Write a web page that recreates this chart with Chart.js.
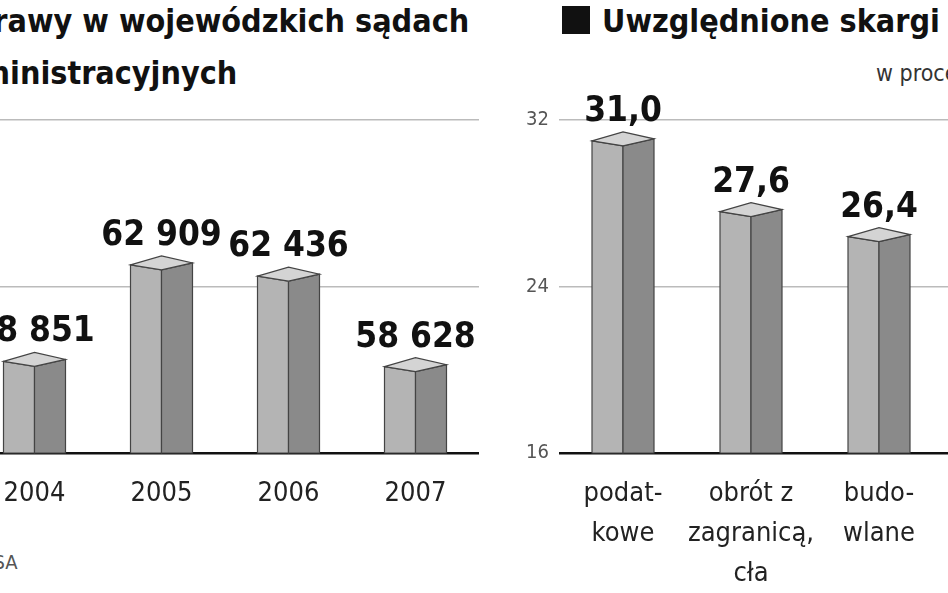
<!DOCTYPE html>
<html><head><meta charset="utf-8">
<script src="https://cdn.jsdelivr.net/npm/chart.js@4"></script>
<style>
html,body{margin:0;padding:0;width:948px;height:593px;overflow:hidden;background:#fff;font-family:"DejaVu Sans Condensed","DejaVu Sans",sans-serif;position:relative}
.t{position:absolute;white-space:nowrap;color:#111}
canvas{position:absolute;top:0}
</style></head><body>
<div class="t" style="left:-48px;top:2px;font-size:32px;font-weight:bold">Sprawy w wojewódzkich sądach</div>
<div class="t" style="left:-60px;top:54px;font-size:32px;font-weight:bold">administracyjnych</div>
<div style="position:absolute;left:562px;top:6px;width:28px;height:28px;background:#111"></div>
<div class="t" style="left:602px;top:2px;font-size:32px;font-weight:bold">Uwzględnione skargi</div>
<div class="t" style="left:876px;top:60px;font-size:23px;color:#333">w procentach</div>
<div class="t" style="left:-20px;top:550px;font-size:20px;color:#555">NSA</div>
<div style="position:absolute;left:-29px;top:0;width:508px;height:593px"><canvas id="c1"></canvas></div>
<div style="position:absolute;left:500px;top:0;width:571px;height:593px"><canvas id="c2"></canvas></div>
<script>
const years=["2004","2005","2006","2007"];
const cases=[58851,62909,62436,58628];
const caseLabels=["58 851","62 909","62 436","58 628"];
const categories=[["podat-","kowe"],["obrót z","zagranicą,","cła"],["budo-","wlane"],[""]];
const shares=[31.0,27.6,26.4,25.0];
const shareLabels=["31,0","27,6","26,4","25,0"];

const bar3d={id:'bar3d',afterDatasetsDraw(ch){
  const ctx=ch.ctx, meta=ch.getDatasetMeta(0), o=ch.options.plugins.bar3d;
  meta.data.forEach((b,i)=>{
    const cx=b.x,y=b.y,base=ch.chartArea.bottom,w=31;
    ctx.save();ctx.strokeStyle='#444';ctx.lineWidth=1.2;
    ctx.beginPath();ctx.moveTo(cx-w,y);ctx.lineTo(cx,y+5);ctx.lineTo(cx,base);ctx.lineTo(cx-w,base);ctx.closePath();ctx.fillStyle='#b4b4b4';ctx.fill();ctx.stroke();
    ctx.beginPath();ctx.moveTo(cx,y+5);ctx.lineTo(cx+w,y-2);ctx.lineTo(cx+w,base);ctx.lineTo(cx,base);ctx.closePath();ctx.fillStyle='#8a8a8a';ctx.fill();ctx.stroke();
    ctx.beginPath();ctx.moveTo(cx-w,y);ctx.lineTo(cx,y+5);ctx.lineTo(cx+w,y-2);ctx.lineTo(cx,y-9);ctx.closePath();ctx.fillStyle='#d4d4d4';ctx.fill();ctx.stroke();
    ctx.fillStyle='#111';ctx.font='bold 35px "DejaVu Sans Condensed","DejaVu Sans"';ctx.textAlign='center';ctx.textBaseline='alphabetic';
    ctx.fillText(o.labels[i],cx,y-20);
    ctx.font='27px "DejaVu Sans Condensed","DejaVu Sans"';ctx.fillStyle='#222';
    const cl=o.cats[i];(Array.isArray(cl)?cl:[cl]).forEach((s,k)=>ctx.fillText(s,cx,ch.chartArea.bottom+48+k*40));
    ctx.restore();
  });
}};
function mk(id,labels,data,min,max,step,vlabels,showY){
  return new Chart(document.getElementById(id),{type:'bar',
    data:{labels:labels.map(l=>Array.isArray(l)?l.join(' '):l),datasets:[{data,backgroundColor:'rgba(0,0,0,0)',borderWidth:0}]},
    options:{responsive:true,maintainAspectRatio:false,animation:false,
      layout:{padding:{top:120,bottom:140,left:0,right:0}},
      plugins:{legend:{display:false},tooltip:{enabled:false},bar3d:{labels:vlabels,cats:labels}},
      scales:{x:{display:false,grid:{display:false}},
        y:{min,max,ticks:{stepSize:step,display:showY,color:'#555',font:{size:20,family:'"DejaVu Sans Condensed","DejaVu Sans"'},padding:10},
           border:{display:false},
           afterFit:s=>{s.width=showY?59:0},
           grid:{drawTicks:false,color:c=>c.tick.value===min?'#111':'#bbb',lineWidth:c=>c.tick.value===min?2.5:1.5}}}},
    plugins:[bar3d]});
}
mk('c1',years,cases,55000,69000,7000,caseLabels,false);
mk('c2',categories,shares,16,32,8,shareLabels,true);
</script></body></html>
